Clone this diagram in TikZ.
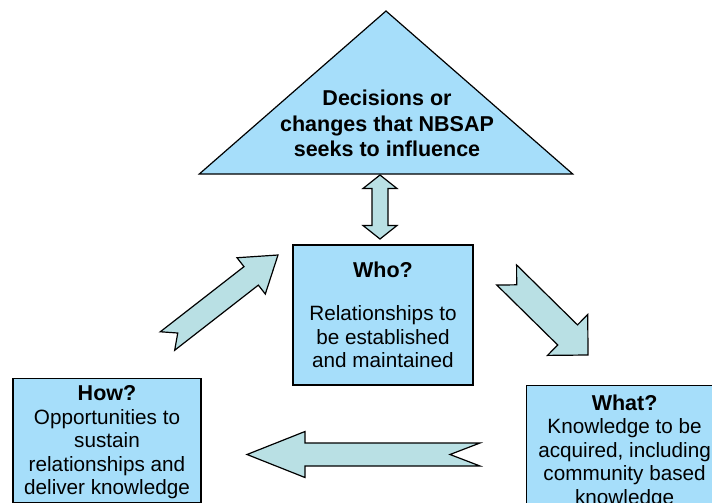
\documentclass[tikz,border=0pt]{standalone}
\usepackage{fontspec}
\setmainfont{Liberation Sans}
\usetikzlibrary{calc}

\definecolor{boxblue}{RGB}{166,222,250}
\definecolor{arrowteal}{RGB}{185,224,228}

\newcommand{\bodyfont}{\fontsize{20.7}{23.5}\selectfont}
\newcommand{\headfont}{\fontsize{21.5}{23.5}\selectfont\bfseries}

% notched block arrow: tail, tip, shaft half width, head half width, head length, notch depth
\newcommand{\notcharrow}[6]{%
  \coordinate (hb) at ($(#2)!#5!(#1)$);
  \draw[blockarrow] ($(#1)!#3!90:(#2)$) -- ($(hb)!#3!90:(#2)$) -- ($(hb)!#4!90:(#2)$) -- (#2)
    -- ($(hb)!#4!-90:(#2)$) -- ($(hb)!#3!-90:(#2)$) -- ($(#1)!#3!-90:(#2)$) -- ($(#1)!#6!(#2)$) -- cycle;
}

\tikzset{
  infobox/.style={draw, line width=1.2pt, fill=boxblue, align=center, font=\bodyfont, inner xsep=0pt},
  blockarrow/.style={draw, line width=1.2pt, fill=arrowteal, line join=miter},
}

\begin{document}
\begin{tikzpicture}[x=1pt,y=1pt,yscale=-1,xscale=1]
\useasboundingbox (0,0) rectangle (712,503);
\clip (0,0) rectangle (712,503);

%Shape: Triangle
\draw [line width=1.2pt, fill=boxblue, line join=miter] (386,11) -- (572.7,174) -- (199.3,174) -- cycle;
% Text Node
\node [align=center, font=\fontsize{21.5}{25.5}\selectfont\bfseries, inner sep=0pt] (decide) at (387,123.5)
  {Decisions or\\changes that NBSAP\\seeks to influence};

% Boxes
\node [infobox, minimum width=180, minimum height=140] (who) at (383,315)
  {{\headfont Who?}\\[19.5pt]Relationships to\\be established\\and maintained};
\node [infobox, anchor=north, minimum width=188, minimum height=123.5, text depth=0pt] (how) at (107,378)
  {{\headfont How?}\\Opportunities to\\sustain\\relationships and\\deliver knowledge};
\node [infobox, anchor=north west, minimum width=196, inner ysep=9pt] (what) at (526,385)
  {{\headfont What?}\\Knowledge to be\\acquired, including\\community based\\knowledge};

%Double Arrow
\coordinate (up) at (380,175);
\coordinate (down) at (380,239);
\draw [blockarrow] (up) -- ++(17,13.5) -- ++(-9,0) -- ++(0,37) -- ++(9,0) -- (down)
  -- ++(-17,-13.5) -- ++(9,0) -- ++(0,-37) -- ++(-9,0) -- cycle;

%Block Arrows
\coordinate (howtail) at (167.5,341);
\coordinate (howtip) at (278,255);
\notcharrow{howtail}{howtip}{11.7pt}{23pt}{34pt}{13pt}
\coordinate (whotail) at (506.7,275);
\coordinate (whotip) at (588,355);
\notcharrow{whotail}{whotip}{14.1pt}{28.7pt}{28.6pt}{14pt}
\coordinate (whattail) at (480,454.5);
\coordinate (whattip) at (247,454.5);
\notcharrow{whattail}{whattip}{11.5pt}{23pt}{58pt}{30pt}

\end{tikzpicture}
\end{document}
